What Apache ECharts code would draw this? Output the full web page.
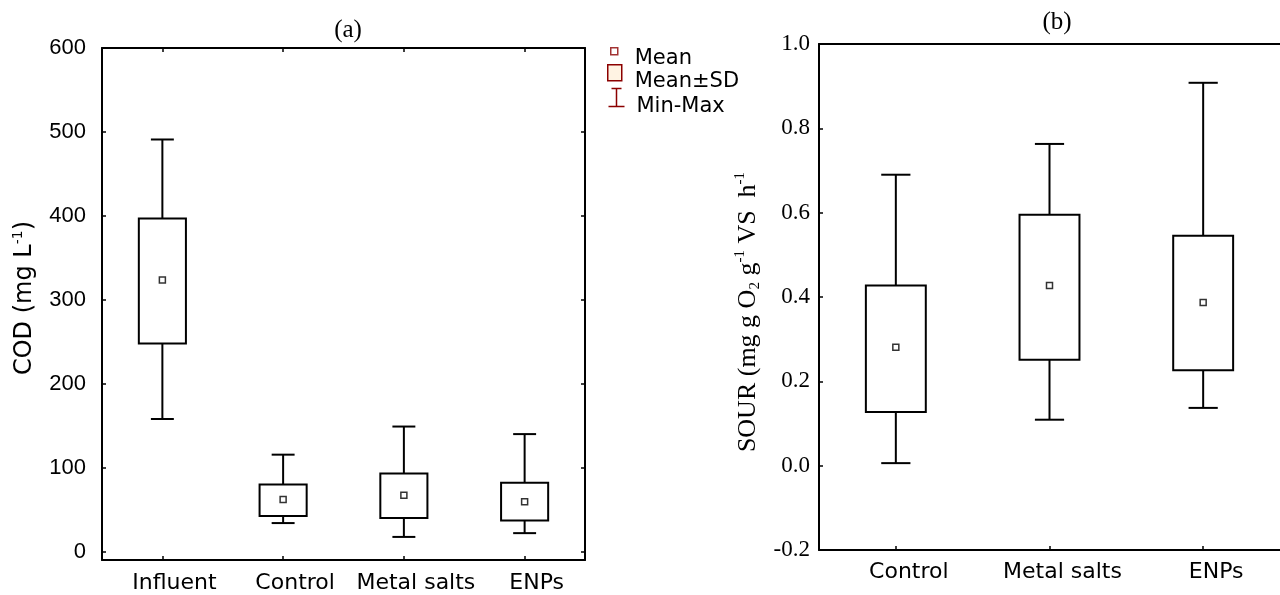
<!DOCTYPE html>
<html>
<head>
<meta charset="utf-8">
<script src="https://cdn.jsdelivr.net/npm/echarts@6/dist/echarts.min.js"></script>
<style>
  html, body { margin: 0; padding: 0; background: #fff; }
  #chart { width: 1280px; height: 595px; }
</style>
</head>
<body>
<div id="chart"></div>
<script>
// (a) COD
const codCats = ['Influent', 'Control', 'Metal salts', 'ENPs'];
const codMean = [323.5, 62, 67, 59.5];
const codSdLow = [248, 42.5, 40, 37];
const codSdHigh = [397, 80, 93, 82];
const codMin = [158, 34, 17.5, 22];
const codMax = [491, 115.5, 149, 140];
const codTicks = [0, 100, 200, 300, 400, 500, 600];

// (b) SOUR
const sourCats = ['Control', 'Metal salts', 'ENPs'];
const sourMean = [0.281, 0.427, 0.387];
const sourSdLow = [0.127, 0.251, 0.226];
const sourSdHigh = [0.427, 0.595, 0.545];
const sourMin = [0.006, 0.109, 0.137];
const sourMax = [0.690, 0.763, 0.908];

const legendRed = '#8b0000';
const sans = 'DejaVu Sans';
const arial = 'Liberation Sans';
const serif = 'Liberation Serif';

function whiskerItem(params, api) {
    const x = api.value(0);
    const top = api.coord([x, api.value(2)]);
    const bot = api.coord([x, api.value(1)]);
    const half = api.size([1, 0])[0] * 0.19 / 2;
    const st = { stroke: '#000', lineWidth: 2 };
    return {
        type: 'group',
        children: [
            { type: 'line', shape: { x1: top[0], y1: top[1], x2: bot[0], y2: bot[1] }, style: st },
            { type: 'line', shape: { x1: top[0] - half, y1: top[1], x2: top[0] + half, y2: top[1] }, style: st },
            { type: 'line', shape: { x1: bot[0] - half, y1: bot[1], x2: bot[0] + half, y2: bot[1] }, style: st }
        ]
    };
}

function boxItem(params, api) {
    const x = api.value(0);
    const top = api.coord([x, api.value(2)]);
    const bot = api.coord([x, api.value(1)]);
    const w = api.size([1, 0])[0] * 0.39;
    return {
        type: 'rect',
        shape: { x: top[0] - w / 2, y: top[1], width: w, height: bot[1] - top[1] },
        style: { fill: '#fff', stroke: '#000', lineWidth: 2 }
    };
}

const frame = { show: true, onZero: false, lineStyle: { color: '#000', width: 2 } };
const tickIn = { show: true, inside: true, length: 4, lineStyle: { color: '#000', width: 1.5 } };
const legendText = { fontFamily: sans, fontSize: 21, color: '#000' };

const chart = echarts.init(document.getElementById('chart'));
chart.setOption({
    animation: false,
    backgroundColor: '#fff',
    title: [
        { text: '(a)', left: 343, top: 13, textAlign: 'center',
          textStyle: { fontFamily: serif, fontSize: 25, fontWeight: 'normal', color: '#000' } },
        { text: '(b)', left: 1052, top: 5, textAlign: 'center',
          textStyle: { fontFamily: serif, fontSize: 25, fontWeight: 'normal', color: '#000' } }
    ],
    legend: [
        { left: 610, top: 47, padding: 0, selectedMode: false, itemWidth: 7, itemHeight: 22,
          data: [{ name: 'Mean', icon: 'path://M0,0L7,0L7,7L0,7ZM0,22L0,22',
                   itemStyle: { color: '#fff', borderColor: legendRed, borderWidth: 1.5 } }],
          textStyle: Object.assign({ padding: [0, 0, 0, 12] }, legendText) },
        { left: 607, top: 64, padding: 0, selectedMode: false, itemWidth: 14, itemHeight: 33,
          data: [{ name: 'Mean±SD', icon: 'path://M0,0L14,0L14,16L0,16ZM0,33L0,33',
                   itemStyle: { color: '#fff3e3', borderColor: legendRed, borderWidth: 1.5 } }],
          textStyle: Object.assign({ padding: [0, 0, 0, 8] }, legendText) },
        { left: 606, top: 86, padding: 0, selectedMode: false, itemWidth: 16, itemHeight: 36,
          data: [{ name: 'Min-Max', icon: 'path://M3,0L13,0M8,0L8,18M0,18L16,18M0,36L0,36',
                   itemStyle: { color: 'none', borderColor: legendRed, borderWidth: 1.5 } }],
          textStyle: Object.assign({ padding: [0, 0, 0, 7] }, legendText) }
    ],
    grid: [
        { left: 102, top: 48, width: 483, height: 512 },
        { left: 819, top: 44, width: 472, height: 506 }
    ],
    xAxis: [
        { type: 'category', gridIndex: 0, data: codCats, position: 'bottom',
          axisLine: frame, axisTick: Object.assign({ alignWithLabel: true }, tickIn),
          axisLabel: { interval: 0, fontFamily: sans, fontSize: 22, color: '#000', margin: 12, padding: [0, 0, 0, 24] } },
        { type: 'category', gridIndex: 0, data: codCats, position: 'top',
          axisLine: frame, axisTick: Object.assign({ alignWithLabel: true }, tickIn), axisLabel: { show: false } },
        { type: 'category', gridIndex: 1, data: sourCats, position: 'bottom',
          axisLine: frame, axisTick: Object.assign({ alignWithLabel: true }, tickIn),
          axisLabel: { interval: 0, fontFamily: sans, fontSize: 22, color: '#000', margin: 11, padding: [0, 0, 0, 26] } },
        { type: 'category', gridIndex: 1, data: sourCats, position: 'top',
          axisLine: frame, axisTick: { show: false }, axisLabel: { show: false } }
    ],
    yAxis: [
        { type: 'value', gridIndex: 0, min: -10, max: 600, position: 'left',
          axisLine: frame, splitLine: { show: false },
          axisTick: Object.assign({ customValues: codTicks }, tickIn),
          axisLabel: { customValues: codTicks, fontFamily: arial, fontSize: 22, color: '#000', margin: 16, padding: [6, 0, 0, 0] },
          name: '{t|COD (mg L}{s|-1}{t|)}', nameLocation: 'middle', nameGap: 63,
          nameTextStyle: { padding: [0, 0, 0, 12], rich: {
              t: { fontFamily: sans, fontSize: 24, color: '#000', lineHeight: 28 },
              s: { fontFamily: sans, fontSize: 14, color: '#000', verticalAlign: 'top', lineHeight: 28 } } } },
        { type: 'value', gridIndex: 0, min: -10, max: 600, position: 'right',
          axisLine: frame, splitLine: { show: false },
          axisTick: Object.assign({ customValues: codTicks }, tickIn),
          axisLabel: { show: false } },
        { type: 'value', gridIndex: 1, min: -0.2, max: 1.0, interval: 0.2, position: 'left',
          axisLine: frame, splitLine: { show: false }, axisTick: tickIn,
          axisLabel: { fontFamily: serif, fontSize: 23, color: '#000', margin: 9,
                       formatter: v => v.toFixed(1) },
          name: '{t|SOUR (mg g O}{b|2}{t| g}{s|-1}{t| VS  h}{s|-1}', nameLocation: 'middle', nameGap: 56,
          nameTextStyle: { padding: [0, 30, 0, 0], rich: {
              t: { fontFamily: serif, fontSize: 26, color: '#000', lineHeight: 30 },
              s: { fontFamily: serif, fontSize: 15, color: '#000', verticalAlign: 'top', lineHeight: 30 },
              b: { fontFamily: serif, fontSize: 15, color: '#000', verticalAlign: 'bottom', lineHeight: 30 } } } }
    ],
    series: [
        { name: 'Min-Max', type: 'custom', xAxisIndex: 0, yAxisIndex: 0, renderItem: whiskerItem,
          encode: { x: 0, y: [1, 2] }, itemStyle: { color: '#000' },
          data: codCats.map((c, i) => [i, codMin[i], codMax[i]]) },
        { name: 'Mean±SD', type: 'custom', xAxisIndex: 0, yAxisIndex: 0, renderItem: boxItem,
          encode: { x: 0, y: [1, 2] }, itemStyle: { color: '#000' },
          data: codCats.map((c, i) => [i, codSdLow[i], codSdHigh[i]]) },
        { name: 'Mean', type: 'scatter', xAxisIndex: 0, yAxisIndex: 0, symbol: 'rect', symbolSize: 6,
          itemStyle: { color: '#fff', borderColor: '#000', borderWidth: 1.5 }, z: 5,
          data: codMean },
        { name: 'Min-Max', type: 'custom', xAxisIndex: 2, yAxisIndex: 2, renderItem: whiskerItem,
          encode: { x: 0, y: [1, 2] }, itemStyle: { color: '#000' },
          data: sourCats.map((c, i) => [i, sourMin[i], sourMax[i]]) },
        { name: 'Mean±SD', type: 'custom', xAxisIndex: 2, yAxisIndex: 2, renderItem: boxItem,
          encode: { x: 0, y: [1, 2] }, itemStyle: { color: '#000' },
          data: sourCats.map((c, i) => [i, sourSdLow[i], sourSdHigh[i]]) },
        { name: 'Mean', type: 'scatter', xAxisIndex: 2, yAxisIndex: 2, symbol: 'rect', symbolSize: 6,
          itemStyle: { color: '#fff', borderColor: '#000', borderWidth: 1.5 }, z: 5,
          data: sourMean }
    ]
});
window.addEventListener('resize', () => chart.resize());
</script>
</body>
</html>
